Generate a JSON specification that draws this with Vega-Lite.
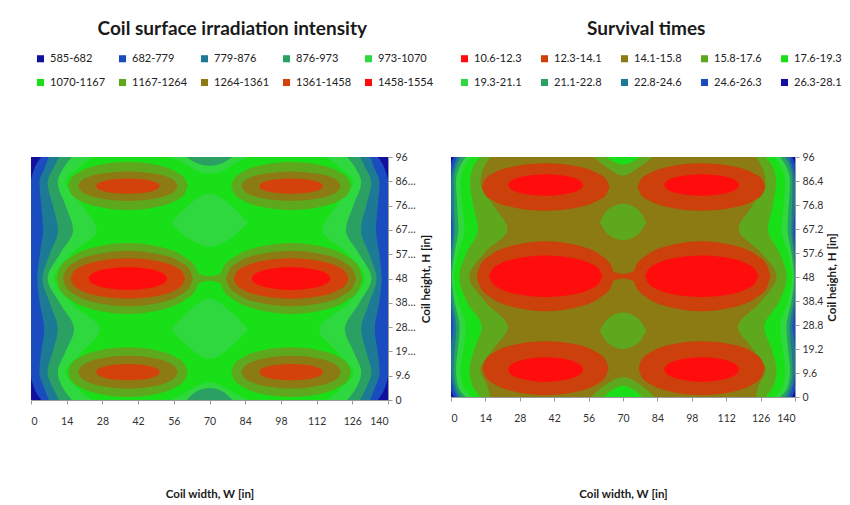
{
"$schema": "https://vega.github.io/schema/vega-lite/v6.json",
"background": "white",
"padding": {"left": 30, "top": 20, "right": 0, "bottom": 0},
"spacing": 16,
"config": {
 "font": "Lato",
 "view": {"stroke": null},
 "axis": {"labelFont": "Lato", "titleFont": "Lato", "labelFontSize": 10.5, "labelColor": "#333333", "titleColor": "#1a1a1a", "domainColor": "#9a9a9a", "tickColor": "#9a9a9a", "grid": false, "tickSize": 4, "titleFontWeight": "bold", "titleFontSize": 11.5},
 "legend": {"labelFont": "Lato", "labelFontSize": 11, "labelColor": "#222222", "symbolType": "square", "symbolSize": 50, "symbolStrokeWidth": 0, "symbolOpacity": 1, "columns": 5, "direction": "horizontal", "gridAlign": "all", "rowPadding": 12, "orient": "none", "padding": 0},
 "title": {"font": "Lato", "fontSize": 19, "fontWeight": "bold", "color": "#1a1a1a", "frame": "bounds", "anchor": "middle", "offset": 14}
},
"resolve": {"scale": {"color": "independent"}, "legend": {"color": "independent"}},
"hconcat": [
 {
  "width": 357, "height": 243,
  "title": {"text": "Coil surface irradiation intensity"},
  "encoding": {
   "x": {"field": "x", "type": "quantitative", "scale": {"domain": [0, 140], "nice": false, "zero": false}, "axis": {"values": [0,14,28,42,56,70,84,98,112,126,140], "title": "Coil width, W [in]", "titlePadding": 62, "labelPadding": 12}},
   "y": {"field": "y", "type": "quantitative", "scale": {"domain": [0, 96], "nice": false, "zero": false}, "axis": {"orient": "right", "values": [0,9.6,19.2,28.8,38.4,48,57.6,67.2,76.8,86.4,96], "format": ".1~f", "labelExpr": "indexof([0,9.6,48,96], datum.value) >= 0 ? datum.label : floor(datum.value) + '…'", "title": "Coil height, H [in]", "titleAngle": 270, "titleBaseline": "top", "titlePadding": 5, "labelPadding": 3}},
   "color": {"field": "c", "type": "ordinal", "scale": {"domain": [1,2,3,4,5,6,7,8,9,10], "range": ["#11119e","#1a4cc0","#1d7a94","#2aa163","#30d840","#19df19","#5ea81e","#8c7a12","#d4420c","#ff0c0c"]}, "legend": {"title": null, "columnPadding": 11, "legendX": 4, "legendY": -104, "labelExpr": "['585-682','682-779','779-876','876-973','973-1070','1070-1167','1167-1264','1264-1361','1361-1458','1458-1554'][datum.value-1]"}}
  },
  "layer": [
   {"data": {"values": [{"x": 0, "x2": 140, "y": 0, "y2": 96, "c": 6}]}, "mark": {"type": "rect"}, "encoding": {"x2": {"field": "x2"}, "y2": {"field": "y2"}}},
   {"data": {"name": "Led"}, "encoding": {"x2": {"field": "x2"}, "detail": {"field": "s"}}, "layer": [
     {"transform": [{"filter": "datum.c==5"}], "mark": {"type": "area", "orient": "horizontal", "interpolate": "monotone"}},
     {"transform": [{"filter": "datum.c==4"}], "mark": {"type": "area", "orient": "horizontal", "interpolate": "monotone"}},
     {"transform": [{"filter": "datum.c==3"}], "mark": {"type": "area", "orient": "horizontal", "interpolate": "monotone"}},
     {"transform": [{"filter": "datum.c==2"}], "mark": {"type": "area", "orient": "horizontal", "interpolate": "monotone"}},
     {"transform": [{"filter": "datum.c==1"}], "mark": {"type": "area", "orient": "horizontal", "interpolate": "monotone"}}
   ]},
   {"data": {"name": "Lsh"}, "encoding": {"y2": {"field": "y2"}, "detail": {"field": "s"}}, "layer": [
     {"transform": [{"filter": "datum.c==5"}], "mark": {"type": "area", "orient": "vertical", "interpolate": "monotone"}},
     {"transform": [{"filter": "datum.c==4"}], "mark": {"type": "area", "orient": "vertical", "interpolate": "monotone"}},
     {"transform": [{"filter": "datum.c==7"}], "mark": {"type": "area", "orient": "vertical", "interpolate": "monotone"}},
     {"transform": [{"filter": "datum.c==8"}], "mark": {"type": "area", "orient": "vertical", "interpolate": "monotone"}},
     {"transform": [{"filter": "datum.c==9"}], "mark": {"type": "area", "orient": "vertical", "interpolate": "monotone"}},
     {"transform": [{"filter": "datum.c==10"}], "mark": {"type": "area", "orient": "vertical", "interpolate": "monotone"}}
   ]}
  ]
 },
 {
  "width": 344, "height": 240,
  "title": {"text": "Survival times"},
  "encoding": {
   "x": {"field": "x", "type": "quantitative", "scale": {"domain": [0, 140], "nice": false, "zero": false}, "axis": {"values": [0,14,28,42,56,70,84,98,112,126,140], "title": "Coil width, W [in]", "titlePadding": 65, "labelPadding": 12}},
   "y": {"field": "y", "type": "quantitative", "scale": {"domain": [0, 96], "nice": false, "zero": false}, "axis": {"orient": "right", "values": [0,9.6,19.2,28.8,38.4,48,57.6,67.2,76.8,86.4,96], "format": ".1~f", "title": "Coil height, H [in]", "titleAngle": 270, "titleBaseline": "top", "titlePadding": 4, "labelPadding": 3}},
   "color": {"field": "c", "type": "ordinal", "scale": {"domain": [1,2,3,4,5,6,7,8,9,10], "range": ["#ff0c0c","#cc400c","#8c7a12","#5ea81e","#19df19","#30d840","#2aa163","#1d7a94","#1a4cc0","#11119e"]}, "legend": {"title": null, "columnPadding": 17, "legendX": 8, "legendY": -104, "labelExpr": "['10.6-12.3','12.3-14.1','14.1-15.8','15.8-17.6','17.6-19.3','19.3-21.1','21.1-22.8','22.8-24.6','24.6-26.3','26.3-28.1'][datum.value-1]"}}
  },
  "layer": [
   {"data": {"values": [{"x": 0, "x2": 140, "y": 0, "y2": 96, "c": 3}]}, "mark": {"type": "rect"}, "encoding": {"x2": {"field": "x2"}, "y2": {"field": "y2"}}},
   {"data": {"name": "Red"}, "encoding": {"x2": {"field": "x2"}, "detail": {"field": "s"}}, "layer": [
     {"transform": [{"filter": "datum.c==4"}], "mark": {"type": "area", "orient": "horizontal", "interpolate": "monotone"}},
     {"transform": [{"filter": "datum.c==5"}], "mark": {"type": "area", "orient": "horizontal", "interpolate": "monotone"}},
     {"transform": [{"filter": "datum.c==6"}], "mark": {"type": "area", "orient": "horizontal", "interpolate": "monotone"}},
     {"transform": [{"filter": "datum.c==7"}], "mark": {"type": "area", "orient": "horizontal", "interpolate": "monotone"}},
     {"transform": [{"filter": "datum.c==8"}], "mark": {"type": "area", "orient": "horizontal", "interpolate": "monotone"}},
     {"transform": [{"filter": "datum.c==9"}], "mark": {"type": "area", "orient": "horizontal", "interpolate": "monotone"}},
     {"transform": [{"filter": "datum.c==10"}], "mark": {"type": "area", "orient": "horizontal", "interpolate": "monotone"}}
   ]},
   {"data": {"name": "Rsh"}, "encoding": {"y2": {"field": "y2"}, "detail": {"field": "s"}}, "layer": [
     {"transform": [{"filter": "datum.c==4"}], "mark": {"type": "area", "orient": "vertical", "interpolate": "monotone"}},
     {"transform": [{"filter": "datum.c==5"}], "mark": {"type": "area", "orient": "vertical", "interpolate": "monotone"}},
     {"transform": [{"filter": "datum.c==2"}], "mark": {"type": "area", "orient": "vertical", "interpolate": "monotone"}},
     {"transform": [{"filter": "datum.c==1"}], "mark": {"type": "area", "orient": "vertical", "interpolate": "monotone"}}
   ]}
  ]
 }
],
"datasets": {
 "Lsh": [
  {"s":"n5t","c":5,"x":55,"y":96,"y2":96},{"s":"n5t","c":5,"x":60,"y":96,"y2":93.5},{"s":"n5t","c":5,"x":65,"y":96,"y2":90.5},{"s":"n5t","c":5,"x":70,"y":96,"y2":89.5},{"s":"n5t","c":5,"x":75,"y":96,"y2":90.5},{"s":"n5t","c":5,"x":80,"y":96,"y2":93.5},{"s":"n5t","c":5,"x":85,"y":96,"y2":96},
  {"s":"n5b","c":5,"x":55,"y":0,"y2":0},{"s":"n5b","c":5,"x":60,"y":2.5,"y2":0},{"s":"n5b","c":5,"x":65,"y":5.5,"y2":0},{"s":"n5b","c":5,"x":70,"y":7,"y2":0},{"s":"n5b","c":5,"x":75,"y":5.5,"y2":0},{"s":"n5b","c":5,"x":80,"y":2.5,"y2":0},{"s":"n5b","c":5,"x":85,"y":0,"y2":0},
  {"s":"d5t","c":5,"x":55,"y":70,"y2":70},{"s":"d5t","c":5,"x":59,"y":74.5,"y2":66},{"s":"d5t","c":5,"x":63,"y":78,"y2":63},{"s":"d5t","c":5,"x":66.5,"y":80.5,"y2":61.3},{"s":"d5t","c":5,"x":70,"y":81.5,"y2":60.5},{"s":"d5t","c":5,"x":73.5,"y":80.5,"y2":61.3},{"s":"d5t","c":5,"x":77,"y":78,"y2":63},{"s":"d5t","c":5,"x":81,"y":74.5,"y2":66},{"s":"d5t","c":5,"x":85,"y":70,"y2":70},
  {"s":"d5b","c":5,"x":55,"y":28,"y2":28},{"s":"d5b","c":5,"x":59,"y":32.5,"y2":23.5},{"s":"d5b","c":5,"x":63,"y":36,"y2":20},{"s":"d5b","c":5,"x":66.5,"y":38.8,"y2":17.3},{"s":"d5b","c":5,"x":70,"y":40,"y2":16.3},{"s":"d5b","c":5,"x":73.5,"y":38.8,"y2":17.3},{"s":"d5b","c":5,"x":77,"y":36,"y2":20},{"s":"d5b","c":5,"x":81,"y":32.5,"y2":23.5},{"s":"d5b","c":5,"x":85,"y":28,"y2":28},
  {"s":"n4t","c":4,"x":61,"y":96,"y2":96},{"s":"n4t","c":4,"x":65,"y":96,"y2":93.5},{"s":"n4t","c":4,"x":70,"y":96,"y2":92.5},{"s":"n4t","c":4,"x":75,"y":96,"y2":93.5},{"s":"n4t","c":4,"x":79,"y":96,"y2":96},
  {"s":"n4b","c":4,"x":61,"y":0,"y2":0},{"s":"n4b","c":4,"x":65,"y":3.5,"y2":0},{"s":"n4b","c":4,"x":70,"y":4.7,"y2":0},{"s":"n4b","c":4,"x":75,"y":3.5,"y2":0},{"s":"n4b","c":4,"x":79,"y":0,"y2":0},
  {"s":"t7a","c":7,"x":14.5,"y":84.5,"y2":84.5},{"s":"t7a","c":7,"x":15.7,"y":87.5,"y2":81.5},{"s":"t7a","c":7,"x":19.2,"y":90.2,"y2":78.8},{"s":"t7a","c":7,"x":26.3,"y":92.7,"y2":76.3},{"s":"t7a","c":7,"x":38,"y":94,"y2":75},{"s":"t7a","c":7,"x":49.8,"y":92.7,"y2":76.3},{"s":"t7a","c":7,"x":56.8,"y":90.2,"y2":78.8},{"s":"t7a","c":7,"x":60.3,"y":87.5,"y2":81.5},{"s":"t7a","c":7,"x":61.5,"y":84.5,"y2":84.5},
  {"s":"t7b","c":7,"x":78.5,"y":84.5,"y2":84.5},{"s":"t7b","c":7,"x":79.7,"y":87.5,"y2":81.5},{"s":"t7b","c":7,"x":83.2,"y":90.2,"y2":78.8},{"s":"t7b","c":7,"x":90.3,"y":92.7,"y2":76.3},{"s":"t7b","c":7,"x":102,"y":94,"y2":75},{"s":"t7b","c":7,"x":113.8,"y":92.7,"y2":76.3},{"s":"t7b","c":7,"x":120.8,"y":90.2,"y2":78.8},{"s":"t7b","c":7,"x":124.3,"y":87.5,"y2":81.5},{"s":"t7b","c":7,"x":125.5,"y":84.5,"y2":84.5},
  {"s":"m7a","c":7,"x":10,"y":48,"y2":48},{"s":"m7a","c":7,"x":11.4,"y":52.4,"y2":43.6},{"s":"m7a","c":7,"x":15.6,"y":56.4,"y2":39.6},{"s":"m7a","c":7,"x":24,"y":60.1,"y2":35.9},{"s":"m7a","c":7,"x":38,"y":62,"y2":34},{"s":"m7a","c":7,"x":52,"y":60.1,"y2":35.9},{"s":"m7a","c":7,"x":60.4,"y":56.4,"y2":39.6},{"s":"m7a","c":7,"x":64.6,"y":52.4,"y2":43.6},{"s":"m7a","c":7,"x":66,"y":48,"y2":48},
  {"s":"m7b","c":7,"x":74,"y":48,"y2":48},{"s":"m7b","c":7,"x":75.4,"y":52.4,"y2":43.6},{"s":"m7b","c":7,"x":79.6,"y":56.4,"y2":39.6},{"s":"m7b","c":7,"x":88,"y":60.1,"y2":35.9},{"s":"m7b","c":7,"x":102,"y":62,"y2":34},{"s":"m7b","c":7,"x":116,"y":60.1,"y2":35.9},{"s":"m7b","c":7,"x":124.4,"y":56.4,"y2":39.6},{"s":"m7b","c":7,"x":128.6,"y":52.4,"y2":43.6},{"s":"m7b","c":7,"x":130,"y":48,"y2":48},
  {"s":"b7a","c":7,"x":14.5,"y":11,"y2":11},{"s":"b7a","c":7,"x":15.7,"y":14.1,"y2":7.9},{"s":"b7a","c":7,"x":19.2,"y":16.9,"y2":5.1},{"s":"b7a","c":7,"x":26.3,"y":19.5,"y2":2.5},{"s":"b7a","c":7,"x":38,"y":20.8,"y2":1.2},{"s":"b7a","c":7,"x":49.8,"y":19.5,"y2":2.5},{"s":"b7a","c":7,"x":56.8,"y":16.9,"y2":5.1},{"s":"b7a","c":7,"x":60.3,"y":14.1,"y2":7.9},{"s":"b7a","c":7,"x":61.5,"y":11,"y2":11},
  {"s":"b7b","c":7,"x":78.5,"y":11,"y2":11},{"s":"b7b","c":7,"x":79.7,"y":14.1,"y2":7.9},{"s":"b7b","c":7,"x":83.2,"y":16.9,"y2":5.1},{"s":"b7b","c":7,"x":90.3,"y":19.5,"y2":2.5},{"s":"b7b","c":7,"x":102,"y":20.8,"y2":1.2},{"s":"b7b","c":7,"x":113.8,"y":19.5,"y2":2.5},{"s":"b7b","c":7,"x":120.8,"y":16.9,"y2":5.1},{"s":"b7b","c":7,"x":124.3,"y":14.1,"y2":7.9},{"s":"b7b","c":7,"x":125.5,"y":11,"y2":11},
  {"s":"br7","c":7,"x":62,"y":51.5,"y2":44.5},{"s":"br7","c":7,"x":66,"y":49.8,"y2":46.2},{"s":"br7","c":7,"x":70,"y":48.9,"y2":47.1},{"s":"br7","c":7,"x":74,"y":49.8,"y2":46.2},{"s":"br7","c":7,"x":78,"y":51.5,"y2":44.5},
  {"s":"t8a","c":8,"x":18.5,"y":84.5,"y2":84.5},{"s":"t8a","c":8,"x":19.5,"y":86.3,"y2":82.7},{"s":"t8a","c":8,"x":22.4,"y":88,"y2":81},{"s":"t8a","c":8,"x":28.3,"y":89.5,"y2":79.5},{"s":"t8a","c":8,"x":38,"y":90.3,"y2":78.7},{"s":"t8a","c":8,"x":47.8,"y":89.5,"y2":79.5},{"s":"t8a","c":8,"x":53.6,"y":88,"y2":81},{"s":"t8a","c":8,"x":56.5,"y":86.3,"y2":82.7},{"s":"t8a","c":8,"x":57.5,"y":84.5,"y2":84.5},
  {"s":"t8b","c":8,"x":82.5,"y":84.5,"y2":84.5},{"s":"t8b","c":8,"x":83.5,"y":86.3,"y2":82.7},{"s":"t8b","c":8,"x":86.4,"y":88,"y2":81},{"s":"t8b","c":8,"x":92.3,"y":89.5,"y2":79.5},{"s":"t8b","c":8,"x":102,"y":90.3,"y2":78.7},{"s":"t8b","c":8,"x":111.8,"y":89.5,"y2":79.5},{"s":"t8b","c":8,"x":117.6,"y":88,"y2":81},{"s":"t8b","c":8,"x":120.5,"y":86.3,"y2":82.7},{"s":"t8b","c":8,"x":121.5,"y":84.5,"y2":84.5},
  {"s":"m8a","c":8,"x":12.5,"y":48,"y2":48},{"s":"m8a","c":8,"x":13.8,"y":51.4,"y2":44.6},{"s":"m8a","c":8,"x":17.6,"y":54.6,"y2":41.4},{"s":"m8a","c":8,"x":25.3,"y":57.5,"y2":38.5},{"s":"m8a","c":8,"x":38,"y":59,"y2":37},{"s":"m8a","c":8,"x":50.8,"y":57.5,"y2":38.5},{"s":"m8a","c":8,"x":58.4,"y":54.6,"y2":41.4},{"s":"m8a","c":8,"x":62.2,"y":51.4,"y2":44.6},{"s":"m8a","c":8,"x":63.5,"y":48,"y2":48},
  {"s":"m8b","c":8,"x":76.5,"y":48,"y2":48},{"s":"m8b","c":8,"x":77.8,"y":51.4,"y2":44.6},{"s":"m8b","c":8,"x":81.6,"y":54.6,"y2":41.4},{"s":"m8b","c":8,"x":89.3,"y":57.5,"y2":38.5},{"s":"m8b","c":8,"x":102,"y":59,"y2":37},{"s":"m8b","c":8,"x":114.8,"y":57.5,"y2":38.5},{"s":"m8b","c":8,"x":122.4,"y":54.6,"y2":41.4},{"s":"m8b","c":8,"x":126.2,"y":51.4,"y2":44.6},{"s":"m8b","c":8,"x":127.5,"y":48,"y2":48},
  {"s":"b8a","c":8,"x":18.5,"y":11,"y2":11},{"s":"b8a","c":8,"x":19.5,"y":13,"y2":9},{"s":"b8a","c":8,"x":22.4,"y":14.9,"y2":7.1},{"s":"b8a","c":8,"x":28.3,"y":16.6,"y2":5.4},{"s":"b8a","c":8,"x":38,"y":17.5,"y2":4.5},{"s":"b8a","c":8,"x":47.8,"y":16.6,"y2":5.4},{"s":"b8a","c":8,"x":53.6,"y":14.9,"y2":7.1},{"s":"b8a","c":8,"x":56.5,"y":13,"y2":9},{"s":"b8a","c":8,"x":57.5,"y":11,"y2":11},
  {"s":"b8b","c":8,"x":82.5,"y":11,"y2":11},{"s":"b8b","c":8,"x":83.5,"y":13,"y2":9},{"s":"b8b","c":8,"x":86.4,"y":14.9,"y2":7.1},{"s":"b8b","c":8,"x":92.3,"y":16.6,"y2":5.4},{"s":"b8b","c":8,"x":102,"y":17.5,"y2":4.5},{"s":"b8b","c":8,"x":111.8,"y":16.6,"y2":5.4},{"s":"b8b","c":8,"x":117.6,"y":14.9,"y2":7.1},{"s":"b8b","c":8,"x":120.5,"y":13,"y2":9},{"s":"b8b","c":8,"x":121.5,"y":11,"y2":11},
  {"s":"t9a","c":9,"x":25.5,"y":84.5,"y2":84.5},{"s":"t9a","c":9,"x":26.1,"y":85.4,"y2":83.6},{"s":"t9a","c":9,"x":28,"y":86.3,"y2":82.7},{"s":"t9a","c":9,"x":31.8,"y":87.1,"y2":81.9},{"s":"t9a","c":9,"x":38,"y":87.5,"y2":81.5},{"s":"t9a","c":9,"x":44.3,"y":87.1,"y2":81.9},{"s":"t9a","c":9,"x":48,"y":86.3,"y2":82.7},{"s":"t9a","c":9,"x":49.9,"y":85.4,"y2":83.6},{"s":"t9a","c":9,"x":50.5,"y":84.5,"y2":84.5},
  {"s":"t9b","c":9,"x":89.5,"y":84.5,"y2":84.5},{"s":"t9b","c":9,"x":90.1,"y":85.4,"y2":83.6},{"s":"t9b","c":9,"x":92,"y":86.3,"y2":82.7},{"s":"t9b","c":9,"x":95.8,"y":87.1,"y2":81.9},{"s":"t9b","c":9,"x":102,"y":87.5,"y2":81.5},{"s":"t9b","c":9,"x":108.3,"y":87.1,"y2":81.9},{"s":"t9b","c":9,"x":112,"y":86.3,"y2":82.7},{"s":"t9b","c":9,"x":113.9,"y":85.4,"y2":83.6},{"s":"t9b","c":9,"x":114.5,"y":84.5,"y2":84.5},
  {"s":"m9a","c":9,"x":15.5,"y":48,"y2":48},{"s":"m9a","c":9,"x":16.6,"y":50.5,"y2":45.5},{"s":"m9a","c":9,"x":20,"y":52.8,"y2":43.2},{"s":"m9a","c":9,"x":26.8,"y":54.9,"y2":41.1},{"s":"m9a","c":9,"x":38,"y":56,"y2":40},{"s":"m9a","c":9,"x":49.3,"y":54.9,"y2":41.1},{"s":"m9a","c":9,"x":56,"y":52.8,"y2":43.2},{"s":"m9a","c":9,"x":59.4,"y":50.5,"y2":45.5},{"s":"m9a","c":9,"x":60.5,"y":48,"y2":48},
  {"s":"m9b","c":9,"x":79.5,"y":48,"y2":48},{"s":"m9b","c":9,"x":80.6,"y":50.5,"y2":45.5},{"s":"m9b","c":9,"x":84,"y":52.8,"y2":43.2},{"s":"m9b","c":9,"x":90.8,"y":54.9,"y2":41.1},{"s":"m9b","c":9,"x":102,"y":56,"y2":40},{"s":"m9b","c":9,"x":113.3,"y":54.9,"y2":41.1},{"s":"m9b","c":9,"x":120,"y":52.8,"y2":43.2},{"s":"m9b","c":9,"x":123.4,"y":50.5,"y2":45.5},{"s":"m9b","c":9,"x":124.5,"y":48,"y2":48},
  {"s":"b9a","c":9,"x":25.5,"y":11,"y2":11},{"s":"b9a","c":9,"x":26.1,"y":12,"y2":10},{"s":"b9a","c":9,"x":28,"y":12.9,"y2":9.1},{"s":"b9a","c":9,"x":31.8,"y":13.8,"y2":8.2},{"s":"b9a","c":9,"x":38,"y":14.2,"y2":7.8},{"s":"b9a","c":9,"x":44.3,"y":13.8,"y2":8.2},{"s":"b9a","c":9,"x":48,"y":12.9,"y2":9.1},{"s":"b9a","c":9,"x":49.9,"y":12,"y2":10},{"s":"b9a","c":9,"x":50.5,"y":11,"y2":11},
  {"s":"b9b","c":9,"x":89.5,"y":11,"y2":11},{"s":"b9b","c":9,"x":90.1,"y":12,"y2":10},{"s":"b9b","c":9,"x":92,"y":12.9,"y2":9.1},{"s":"b9b","c":9,"x":95.8,"y":13.8,"y2":8.2},{"s":"b9b","c":9,"x":102,"y":14.2,"y2":7.8},{"s":"b9b","c":9,"x":108.3,"y":13.8,"y2":8.2},{"s":"b9b","c":9,"x":112,"y":12.9,"y2":9.1},{"s":"b9b","c":9,"x":113.9,"y":12,"y2":10},{"s":"b9b","c":9,"x":114.5,"y":11,"y2":11},
  {"s":"m10a","c":10,"x":22.5,"y":48,"y2":48},{"s":"m10a","c":10,"x":23.3,"y":49.4,"y2":46.6},{"s":"m10a","c":10,"x":25.6,"y":50.7,"y2":45.3},{"s":"m10a","c":10,"x":30.3,"y":51.9,"y2":44.1},{"s":"m10a","c":10,"x":38,"y":52.5,"y2":43.5},{"s":"m10a","c":10,"x":45.8,"y":51.9,"y2":44.1},{"s":"m10a","c":10,"x":50.4,"y":50.7,"y2":45.3},{"s":"m10a","c":10,"x":52.7,"y":49.4,"y2":46.6},{"s":"m10a","c":10,"x":53.5,"y":48,"y2":48},
  {"s":"m10b","c":10,"x":86.5,"y":48,"y2":48},{"s":"m10b","c":10,"x":87.3,"y":49.4,"y2":46.6},{"s":"m10b","c":10,"x":89.6,"y":50.7,"y2":45.3},{"s":"m10b","c":10,"x":94.3,"y":51.9,"y2":44.1},{"s":"m10b","c":10,"x":102,"y":52.5,"y2":43.5},{"s":"m10b","c":10,"x":109.8,"y":51.9,"y2":44.1},{"s":"m10b","c":10,"x":114.4,"y":50.7,"y2":45.3},{"s":"m10b","c":10,"x":116.7,"y":49.4,"y2":46.6},{"s":"m10b","c":10,"x":117.5,"y":48,"y2":48}
 ],
 "Led": [
  {"s":"e5L","c":5,"y":0,"x":0,"x2":24},{"s":"e5L","c":5,"y":4,"x":0,"x2":19},{"s":"e5L","c":5,"y":11,"x":0,"x2":13.5},{"s":"e5L","c":5,"y":19,"x":0,"x2":20},{"s":"e5L","c":5,"y":28,"x":0,"x2":27},{"s":"e5L","c":5,"y":38,"x":0,"x2":16},{"s":"e5L","c":5,"y":48,"x":0,"x2":9},{"s":"e5L","c":5,"y":58,"x":0,"x2":16},{"s":"e5L","c":5,"y":67,"x":0,"x2":25.7},{"s":"e5L","c":5,"y":77,"x":0,"x2":20},{"s":"e5L","c":5,"y":86,"x":0,"x2":13.5},{"s":"e5L","c":5,"y":92,"x":0,"x2":19},{"s":"e5L","c":5,"y":96,"x":0,"x2":24},
  {"s":"e5R","c":5,"y":0,"x":116,"x2":140},{"s":"e5R","c":5,"y":4,"x":121,"x2":140},{"s":"e5R","c":5,"y":11,"x":126.5,"x2":140},{"s":"e5R","c":5,"y":19,"x":120,"x2":140},{"s":"e5R","c":5,"y":28,"x":113,"x2":140},{"s":"e5R","c":5,"y":38,"x":124,"x2":140},{"s":"e5R","c":5,"y":48,"x":131,"x2":140},{"s":"e5R","c":5,"y":58,"x":124,"x2":140},{"s":"e5R","c":5,"y":67,"x":114.3,"x2":140},{"s":"e5R","c":5,"y":77,"x":120,"x2":140},{"s":"e5R","c":5,"y":86,"x":126.5,"x2":140},{"s":"e5R","c":5,"y":92,"x":121,"x2":140},{"s":"e5R","c":5,"y":96,"x":116,"x2":140},
  {"s":"e4L","c":4,"y":0,"x":0,"x2":16},{"s":"e4L","c":4,"y":4,"x":0,"x2":13},{"s":"e4L","c":4,"y":11,"x":0,"x2":10.5},{"s":"e4L","c":4,"y":19,"x":0,"x2":13.5},{"s":"e4L","c":4,"y":28,"x":0,"x2":16.9},{"s":"e4L","c":4,"y":38,"x":0,"x2":11.5},{"s":"e4L","c":4,"y":48,"x":0,"x2":6.5},{"s":"e4L","c":4,"y":58,"x":0,"x2":11.5},{"s":"e4L","c":4,"y":67,"x":0,"x2":16.5},{"s":"e4L","c":4,"y":77,"x":0,"x2":13.5},{"s":"e4L","c":4,"y":86,"x":0,"x2":10.5},{"s":"e4L","c":4,"y":92,"x":0,"x2":13},{"s":"e4L","c":4,"y":96,"x":0,"x2":16},
  {"s":"e4R","c":4,"y":0,"x":124,"x2":140},{"s":"e4R","c":4,"y":4,"x":127,"x2":140},{"s":"e4R","c":4,"y":11,"x":129.5,"x2":140},{"s":"e4R","c":4,"y":19,"x":126.5,"x2":140},{"s":"e4R","c":4,"y":28,"x":123.1,"x2":140},{"s":"e4R","c":4,"y":38,"x":128.5,"x2":140},{"s":"e4R","c":4,"y":48,"x":133.5,"x2":140},{"s":"e4R","c":4,"y":58,"x":128.5,"x2":140},{"s":"e4R","c":4,"y":67,"x":123.5,"x2":140},{"s":"e4R","c":4,"y":77,"x":126.5,"x2":140},{"s":"e4R","c":4,"y":86,"x":129.5,"x2":140},{"s":"e4R","c":4,"y":92,"x":127,"x2":140},{"s":"e4R","c":4,"y":96,"x":124,"x2":140},
  {"s":"e3L","c":3,"y":0,"x":0,"x2":11},{"s":"e3L","c":3,"y":4,"x":0,"x2":9},{"s":"e3L","c":3,"y":11,"x":0,"x2":6.5},{"s":"e3L","c":3,"y":19,"x":0,"x2":8.5},{"s":"e3L","c":3,"y":28,"x":0,"x2":10.5},{"s":"e3L","c":3,"y":38,"x":0,"x2":7.5},{"s":"e3L","c":3,"y":48,"x":0,"x2":4.5},{"s":"e3L","c":3,"y":58,"x":0,"x2":7.5},{"s":"e3L","c":3,"y":67,"x":0,"x2":10.6},{"s":"e3L","c":3,"y":77,"x":0,"x2":8.5},{"s":"e3L","c":3,"y":86,"x":0,"x2":6.5},{"s":"e3L","c":3,"y":92,"x":0,"x2":9},{"s":"e3L","c":3,"y":96,"x":0,"x2":11},
  {"s":"e3R","c":3,"y":0,"x":129,"x2":140},{"s":"e3R","c":3,"y":4,"x":131,"x2":140},{"s":"e3R","c":3,"y":11,"x":133.5,"x2":140},{"s":"e3R","c":3,"y":19,"x":131.5,"x2":140},{"s":"e3R","c":3,"y":28,"x":129.5,"x2":140},{"s":"e3R","c":3,"y":38,"x":132.5,"x2":140},{"s":"e3R","c":3,"y":48,"x":135.5,"x2":140},{"s":"e3R","c":3,"y":58,"x":132.5,"x2":140},{"s":"e3R","c":3,"y":67,"x":129.4,"x2":140},{"s":"e3R","c":3,"y":77,"x":131.5,"x2":140},{"s":"e3R","c":3,"y":86,"x":133.5,"x2":140},{"s":"e3R","c":3,"y":92,"x":131,"x2":140},{"s":"e3R","c":3,"y":96,"x":129,"x2":140},
  {"s":"e2L","c":2,"y":0,"x":0,"x2":7},{"s":"e2L","c":2,"y":4,"x":0,"x2":5.5},{"s":"e2L","c":2,"y":11,"x":0,"x2":3.3},{"s":"e2L","c":2,"y":19,"x":0,"x2":4},{"s":"e2L","c":2,"y":28,"x":0,"x2":5.2},{"s":"e2L","c":2,"y":38,"x":0,"x2":3.5},{"s":"e2L","c":2,"y":48,"x":0,"x2":2.5},{"s":"e2L","c":2,"y":58,"x":0,"x2":3.5},{"s":"e2L","c":2,"y":67,"x":0,"x2":4.7},{"s":"e2L","c":2,"y":77,"x":0,"x2":4},{"s":"e2L","c":2,"y":86,"x":0,"x2":3.3},{"s":"e2L","c":2,"y":92,"x":0,"x2":5.5},{"s":"e2L","c":2,"y":96,"x":0,"x2":7},
  {"s":"e2R","c":2,"y":0,"x":133,"x2":140},{"s":"e2R","c":2,"y":4,"x":134.5,"x2":140},{"s":"e2R","c":2,"y":11,"x":136.7,"x2":140},{"s":"e2R","c":2,"y":19,"x":136,"x2":140},{"s":"e2R","c":2,"y":28,"x":134.8,"x2":140},{"s":"e2R","c":2,"y":38,"x":136.5,"x2":140},{"s":"e2R","c":2,"y":48,"x":137.5,"x2":140},{"s":"e2R","c":2,"y":58,"x":136.5,"x2":140},{"s":"e2R","c":2,"y":67,"x":135.3,"x2":140},{"s":"e2R","c":2,"y":77,"x":136,"x2":140},{"s":"e2R","c":2,"y":86,"x":136.7,"x2":140},{"s":"e2R","c":2,"y":92,"x":134.5,"x2":140},{"s":"e2R","c":2,"y":96,"x":133,"x2":140},
  {"s":"e1Lb","c":1,"y":0,"x":0,"x2":4},{"s":"e1Lb","c":1,"y":3,"x":0,"x2":2},{"s":"e1Lb","c":1,"y":6,"x":0,"x2":0.8},{"s":"e1Lb","c":1,"y":9,"x":0,"x2":0},
  {"s":"e1Lt","c":1,"y":87,"x":0,"x2":0},{"s":"e1Lt","c":1,"y":90,"x":0,"x2":0.8},{"s":"e1Lt","c":1,"y":93,"x":0,"x2":2},{"s":"e1Lt","c":1,"y":96,"x":0,"x2":4},
  {"s":"e1Rb","c":1,"y":0,"x":136,"x2":140},{"s":"e1Rb","c":1,"y":3,"x":138,"x2":140},{"s":"e1Rb","c":1,"y":6,"x":139.2,"x2":140},{"s":"e1Rb","c":1,"y":9,"x":140,"x2":140},
  {"s":"e1Rt","c":1,"y":87,"x":140,"x2":140},{"s":"e1Rt","c":1,"y":90,"x":139.2,"x2":140},{"s":"e1Rt","c":1,"y":93,"x":138,"x2":140},{"s":"e1Rt","c":1,"y":96,"x":136,"x2":140}
 ],
 "Rsh": [
  {"s":"n4t","c":4,"x":58,"y":96,"y2":96},{"s":"n4t","c":4,"x":64,"y":96,"y2":91.5},{"s":"n4t","c":4,"x":70,"y":96,"y2":88.5},{"s":"n4t","c":4,"x":76,"y":96,"y2":91.5},{"s":"n4t","c":4,"x":82,"y":96,"y2":96},
  {"s":"n4b","c":4,"x":57,"y":0,"y2":0},{"s":"n4b","c":4,"x":63,"y":5,"y2":0},{"s":"n4b","c":4,"x":70,"y":8,"y2":0},{"s":"n4b","c":4,"x":77,"y":5,"y2":0},{"s":"n4b","c":4,"x":83,"y":0,"y2":0},
  {"s":"d4t","c":4,"x":60.5,"y":70,"y2":70},{"s":"d4t","c":4,"x":63,"y":74,"y2":66},{"s":"d4t","c":4,"x":66,"y":76.3,"y2":63.7},{"s":"d4t","c":4,"x":70,"y":77.3,"y2":62.7},{"s":"d4t","c":4,"x":74,"y":76.3,"y2":63.7},{"s":"d4t","c":4,"x":77,"y":74,"y2":66},{"s":"d4t","c":4,"x":79.5,"y":70,"y2":70},
  {"s":"d4b","c":4,"x":60.5,"y":26.5,"y2":26.5},{"s":"d4b","c":4,"x":63,"y":30.5,"y2":22.5},{"s":"d4b","c":4,"x":66,"y":32.8,"y2":20.2},{"s":"d4b","c":4,"x":70,"y":33.8,"y2":19.2},{"s":"d4b","c":4,"x":74,"y":32.8,"y2":20.2},{"s":"d4b","c":4,"x":77,"y":30.5,"y2":22.5},{"s":"d4b","c":4,"x":79.5,"y":26.5,"y2":26.5},
  {"s":"n5t","c":5,"x":63,"y":96,"y2":96},{"s":"n5t","c":5,"x":66.5,"y":96,"y2":94},{"s":"n5t","c":5,"x":70,"y":96,"y2":93},{"s":"n5t","c":5,"x":73.5,"y":96,"y2":94},{"s":"n5t","c":5,"x":77,"y":96,"y2":96},
  {"s":"n5b","c":5,"x":62,"y":0,"y2":0},{"s":"n5b","c":5,"x":66,"y":3,"y2":0},{"s":"n5b","c":5,"x":70,"y":4.5,"y2":0},{"s":"n5b","c":5,"x":74,"y":3,"y2":0},{"s":"n5b","c":5,"x":78,"y":0,"y2":0},
  {"s":"t2a","c":2,"x":12.5,"y":84,"y2":84},{"s":"t2a","c":2,"x":13.8,"y":87,"y2":81},{"s":"t2a","c":2,"x":17.7,"y":89.7,"y2":78.3},{"s":"t2a","c":2,"x":25.5,"y":92.2,"y2":75.8},{"s":"t2a","c":2,"x":38.5,"y":93.5,"y2":74.5},{"s":"t2a","c":2,"x":51.5,"y":92.2,"y2":75.8},{"s":"t2a","c":2,"x":59.3,"y":89.7,"y2":78.3},{"s":"t2a","c":2,"x":63.2,"y":87,"y2":81},{"s":"t2a","c":2,"x":64.5,"y":84,"y2":84},
  {"s":"t2b","c":2,"x":76,"y":84,"y2":84},{"s":"t2b","c":2,"x":77.3,"y":87,"y2":81},{"s":"t2b","c":2,"x":81.2,"y":89.7,"y2":78.3},{"s":"t2b","c":2,"x":89,"y":92.2,"y2":75.8},{"s":"t2b","c":2,"x":102,"y":93.5,"y2":74.5},{"s":"t2b","c":2,"x":115,"y":92.2,"y2":75.8},{"s":"t2b","c":2,"x":122.8,"y":89.7,"y2":78.3},{"s":"t2b","c":2,"x":126.7,"y":87,"y2":81},{"s":"t2b","c":2,"x":128,"y":84,"y2":84},
  {"s":"m2a","c":2,"x":10.5,"y":48.3,"y2":48.3},{"s":"m2a","c":2,"x":11.9,"y":52.7,"y2":43.9},{"s":"m2a","c":2,"x":16.1,"y":56.7,"y2":39.9},{"s":"m2a","c":2,"x":24.5,"y":60.4,"y2":36.2},{"s":"m2a","c":2,"x":38.5,"y":62.3,"y2":34.3},{"s":"m2a","c":2,"x":52.5,"y":60.4,"y2":36.2},{"s":"m2a","c":2,"x":60.9,"y":56.7,"y2":39.9},{"s":"m2a","c":2,"x":65.1,"y":52.7,"y2":43.9},{"s":"m2a","c":2,"x":66.5,"y":48.3,"y2":48.3},
  {"s":"m2b","c":2,"x":74,"y":48.3,"y2":48.3},{"s":"m2b","c":2,"x":75.4,"y":52.7,"y2":43.9},{"s":"m2b","c":2,"x":79.6,"y":56.7,"y2":39.9},{"s":"m2b","c":2,"x":88,"y":60.4,"y2":36.2},{"s":"m2b","c":2,"x":102,"y":62.3,"y2":34.3},{"s":"m2b","c":2,"x":116,"y":60.4,"y2":36.2},{"s":"m2b","c":2,"x":124.4,"y":56.7,"y2":39.9},{"s":"m2b","c":2,"x":128.6,"y":52.7,"y2":43.9},{"s":"m2b","c":2,"x":130,"y":48.3,"y2":48.3},
  {"s":"b2a","c":2,"x":12.8,"y":11.5,"y2":11.5},{"s":"b2a","c":2,"x":14.1,"y":14.9,"y2":8.1},{"s":"b2a","c":2,"x":17.9,"y":18,"y2":5},{"s":"b2a","c":2,"x":25.7,"y":20.9,"y2":2.2},{"s":"b2a","c":2,"x":38.5,"y":22.3,"y2":0.7},{"s":"b2a","c":2,"x":51.4,"y":20.9,"y2":2.2},{"s":"b2a","c":2,"x":59.1,"y":18,"y2":5},{"s":"b2a","c":2,"x":62.9,"y":14.9,"y2":8.1},{"s":"b2a","c":2,"x":64.2,"y":11.5,"y2":11.5},
  {"s":"b2b","c":2,"x":76.3,"y":11.5,"y2":11.5},{"s":"b2b","c":2,"x":77.6,"y":14.9,"y2":8.1},{"s":"b2b","c":2,"x":81.4,"y":18,"y2":5},{"s":"b2b","c":2,"x":89.2,"y":20.9,"y2":2.2},{"s":"b2b","c":2,"x":102,"y":22.3,"y2":0.7},{"s":"b2b","c":2,"x":114.9,"y":20.9,"y2":2.2},{"s":"b2b","c":2,"x":122.6,"y":18,"y2":5},{"s":"b2b","c":2,"x":126.4,"y":14.9,"y2":8.1},{"s":"b2b","c":2,"x":127.7,"y":11.5,"y2":11.5},
  {"s":"br2","c":2,"x":62,"y":52,"y2":44.6},{"s":"br2","c":2,"x":66,"y":50.1,"y2":46.5},{"s":"br2","c":2,"x":70,"y":49.2,"y2":47.4},{"s":"br2","c":2,"x":74,"y":50.1,"y2":46.5},{"s":"br2","c":2,"x":78,"y":52,"y2":44.6},
  {"s":"t1a","c":1,"x":23.2,"y":84.8,"y2":84.8},{"s":"t1a","c":1,"x":24,"y":86.1,"y2":83.5},{"s":"t1a","c":1,"x":26.3,"y":87.4,"y2":82.2},{"s":"t1a","c":1,"x":30.9,"y":88.5,"y2":81.1},{"s":"t1a","c":1,"x":38.5,"y":89.1,"y2":80.5},{"s":"t1a","c":1,"x":46.2,"y":88.5,"y2":81.1},{"s":"t1a","c":1,"x":50.7,"y":87.4,"y2":82.2},{"s":"t1a","c":1,"x":53,"y":86.1,"y2":83.5},{"s":"t1a","c":1,"x":53.8,"y":84.8,"y2":84.8},
  {"s":"t1b","c":1,"x":86.7,"y":84.8,"y2":84.8},{"s":"t1b","c":1,"x":87.5,"y":86.1,"y2":83.5},{"s":"t1b","c":1,"x":89.8,"y":87.4,"y2":82.2},{"s":"t1b","c":1,"x":94.4,"y":88.5,"y2":81.1},{"s":"t1b","c":1,"x":102,"y":89.1,"y2":80.5},{"s":"t1b","c":1,"x":109.7,"y":88.5,"y2":81.1},{"s":"t1b","c":1,"x":114.2,"y":87.4,"y2":82.2},{"s":"t1b","c":1,"x":116.5,"y":86.1,"y2":83.5},{"s":"t1b","c":1,"x":117.3,"y":84.8,"y2":84.8},
  {"s":"m1a","c":1,"x":15.5,"y":48.3,"y2":48.3},{"s":"m1a","c":1,"x":16.7,"y":50.9,"y2":45.7},{"s":"m1a","c":1,"x":20.1,"y":53.3,"y2":43.3},{"s":"m1a","c":1,"x":27,"y":55.5,"y2":41.1},{"s":"m1a","c":1,"x":38.5,"y":56.6,"y2":40},{"s":"m1a","c":1,"x":50,"y":55.5,"y2":41.1},{"s":"m1a","c":1,"x":56.9,"y":53.3,"y2":43.3},{"s":"m1a","c":1,"x":60.4,"y":50.9,"y2":45.7},{"s":"m1a","c":1,"x":61.5,"y":48.3,"y2":48.3},
  {"s":"m1b","c":1,"x":79,"y":48.3,"y2":48.3},{"s":"m1b","c":1,"x":80.2,"y":50.9,"y2":45.7},{"s":"m1b","c":1,"x":83.6,"y":53.3,"y2":43.3},{"s":"m1b","c":1,"x":90.5,"y":55.5,"y2":41.1},{"s":"m1b","c":1,"x":102,"y":56.6,"y2":40},{"s":"m1b","c":1,"x":113.5,"y":55.5,"y2":41.1},{"s":"m1b","c":1,"x":120.4,"y":53.3,"y2":43.3},{"s":"m1b","c":1,"x":123.9,"y":50.9,"y2":45.7},{"s":"m1b","c":1,"x":125,"y":48.3,"y2":48.3},
  {"s":"b1a","c":1,"x":23.2,"y":11,"y2":11},{"s":"b1a","c":1,"x":24,"y":12.5,"y2":9.5},{"s":"b1a","c":1,"x":26.3,"y":13.9,"y2":8.1},{"s":"b1a","c":1,"x":30.9,"y":15.2,"y2":6.8},{"s":"b1a","c":1,"x":38.5,"y":15.9,"y2":6.1},{"s":"b1a","c":1,"x":46.2,"y":15.2,"y2":6.8},{"s":"b1a","c":1,"x":50.7,"y":13.9,"y2":8.1},{"s":"b1a","c":1,"x":53,"y":12.5,"y2":9.5},{"s":"b1a","c":1,"x":53.8,"y":11,"y2":11},
  {"s":"b1b","c":1,"x":86.7,"y":11,"y2":11},{"s":"b1b","c":1,"x":87.5,"y":12.5,"y2":9.5},{"s":"b1b","c":1,"x":89.8,"y":13.9,"y2":8.1},{"s":"b1b","c":1,"x":94.4,"y":15.2,"y2":6.8},{"s":"b1b","c":1,"x":102,"y":15.9,"y2":6.1},{"s":"b1b","c":1,"x":109.7,"y":15.2,"y2":6.8},{"s":"b1b","c":1,"x":114.2,"y":13.9,"y2":8.1},{"s":"b1b","c":1,"x":116.5,"y":12.5,"y2":9.5},{"s":"b1b","c":1,"x":117.3,"y":11,"y2":11}
 ],
 "Red": [
  {"s":"e4L","c":4,"y":0,"x":0,"x2":16},{"s":"e4L","c":4,"y":4,"x":0,"x2":15},{"s":"e4L","c":4,"y":11,"x":0,"x2":12},{"s":"e4L","c":4,"y":19,"x":0,"x2":17},{"s":"e4L","c":4,"y":28,"x":0,"x2":23.2},{"s":"e4L","c":4,"y":38,"x":0,"x2":14},{"s":"e4L","c":4,"y":48,"x":0,"x2":7.5},{"s":"e4L","c":4,"y":58,"x":0,"x2":14},{"s":"e4L","c":4,"y":67,"x":0,"x2":23},{"s":"e4L","c":4,"y":77,"x":0,"x2":17},{"s":"e4L","c":4,"y":86,"x":0,"x2":12},{"s":"e4L","c":4,"y":92,"x":0,"x2":13.5},{"s":"e4L","c":4,"y":96,"x":0,"x2":16},
  {"s":"e4R","c":4,"y":0,"x":124,"x2":140},{"s":"e4R","c":4,"y":4,"x":125,"x2":140},{"s":"e4R","c":4,"y":11,"x":128,"x2":140},{"s":"e4R","c":4,"y":19,"x":123,"x2":140},{"s":"e4R","c":4,"y":28,"x":116.8,"x2":140},{"s":"e4R","c":4,"y":38,"x":126,"x2":140},{"s":"e4R","c":4,"y":48,"x":132.5,"x2":140},{"s":"e4R","c":4,"y":58,"x":126,"x2":140},{"s":"e4R","c":4,"y":67,"x":117,"x2":140},{"s":"e4R","c":4,"y":77,"x":123,"x2":140},{"s":"e4R","c":4,"y":86,"x":128,"x2":140},{"s":"e4R","c":4,"y":92,"x":126.5,"x2":140},{"s":"e4R","c":4,"y":96,"x":124,"x2":140},
  {"s":"e5L","c":5,"y":0,"x":0,"x2":12},{"s":"e5L","c":5,"y":4,"x":0,"x2":9},{"s":"e5L","c":5,"y":11,"x":0,"x2":7.5},{"s":"e5L","c":5,"y":19,"x":0,"x2":9.5},{"s":"e5L","c":5,"y":28,"x":0,"x2":12.5},{"s":"e5L","c":5,"y":38,"x":0,"x2":6.5},{"s":"e5L","c":5,"y":48,"x":0,"x2":3.4},{"s":"e5L","c":5,"y":58,"x":0,"x2":6.5},{"s":"e5L","c":5,"y":67,"x":0,"x2":11},{"s":"e5L","c":5,"y":77,"x":0,"x2":9},{"s":"e5L","c":5,"y":86,"x":0,"x2":7.7},{"s":"e5L","c":5,"y":92,"x":0,"x2":9},{"s":"e5L","c":5,"y":96,"x":0,"x2":12},
  {"s":"e5R","c":5,"y":0,"x":128,"x2":140},{"s":"e5R","c":5,"y":4,"x":131,"x2":140},{"s":"e5R","c":5,"y":11,"x":132.5,"x2":140},{"s":"e5R","c":5,"y":19,"x":130.5,"x2":140},{"s":"e5R","c":5,"y":28,"x":127.5,"x2":140},{"s":"e5R","c":5,"y":38,"x":133.5,"x2":140},{"s":"e5R","c":5,"y":48,"x":136.6,"x2":140},{"s":"e5R","c":5,"y":58,"x":133.5,"x2":140},{"s":"e5R","c":5,"y":67,"x":129,"x2":140},{"s":"e5R","c":5,"y":77,"x":131,"x2":140},{"s":"e5R","c":5,"y":86,"x":132.3,"x2":140},{"s":"e5R","c":5,"y":92,"x":131,"x2":140},{"s":"e5R","c":5,"y":96,"x":128,"x2":140},
  {"s":"e6L","c":6,"y":0,"x":0,"x2":8.5},{"s":"e6L","c":6,"y":4,"x":0,"x2":5},{"s":"e6L","c":6,"y":11,"x":0,"x2":4},{"s":"e6L","c":6,"y":19,"x":0,"x2":5},{"s":"e6L","c":6,"y":28,"x":0,"x2":6},{"s":"e6L","c":6,"y":38,"x":0,"x2":3},{"s":"e6L","c":6,"y":48,"x":0,"x2":1.2},{"s":"e6L","c":6,"y":58,"x":0,"x2":3},{"s":"e6L","c":6,"y":67,"x":0,"x2":5.5},{"s":"e6L","c":6,"y":77,"x":0,"x2":4.5},{"s":"e6L","c":6,"y":86,"x":0,"x2":4},{"s":"e6L","c":6,"y":92,"x":0,"x2":5.5},{"s":"e6L","c":6,"y":96,"x":0,"x2":8.5},
  {"s":"e6R","c":6,"y":0,"x":131.5,"x2":140},{"s":"e6R","c":6,"y":4,"x":135,"x2":140},{"s":"e6R","c":6,"y":11,"x":136,"x2":140},{"s":"e6R","c":6,"y":19,"x":135,"x2":140},{"s":"e6R","c":6,"y":28,"x":134,"x2":140},{"s":"e6R","c":6,"y":38,"x":137,"x2":140},{"s":"e6R","c":6,"y":48,"x":138.8,"x2":140},{"s":"e6R","c":6,"y":58,"x":137,"x2":140},{"s":"e6R","c":6,"y":67,"x":134.5,"x2":140},{"s":"e6R","c":6,"y":77,"x":135.5,"x2":140},{"s":"e6R","c":6,"y":86,"x":136,"x2":140},{"s":"e6R","c":6,"y":92,"x":134.5,"x2":140},{"s":"e6R","c":6,"y":96,"x":131.5,"x2":140},
  {"s":"e7L","c":7,"y":0,"x":0,"x2":6},{"s":"e7L","c":7,"y":4,"x":0,"x2":3},{"s":"e7L","c":7,"y":11,"x":0,"x2":2},{"s":"e7L","c":7,"y":19,"x":0,"x2":2.8},{"s":"e7L","c":7,"y":28,"x":0,"x2":3.5},{"s":"e7L","c":7,"y":38,"x":0,"x2":1.5},{"s":"e7L","c":7,"y":48,"x":0,"x2":0.4},{"s":"e7L","c":7,"y":58,"x":0,"x2":1.5},{"s":"e7L","c":7,"y":67,"x":0,"x2":3},{"s":"e7L","c":7,"y":77,"x":0,"x2":2.5},{"s":"e7L","c":7,"y":86,"x":0,"x2":2},{"s":"e7L","c":7,"y":92,"x":0,"x2":3.5},{"s":"e7L","c":7,"y":96,"x":0,"x2":6},
  {"s":"e7R","c":7,"y":0,"x":134,"x2":140},{"s":"e7R","c":7,"y":4,"x":137,"x2":140},{"s":"e7R","c":7,"y":11,"x":138,"x2":140},{"s":"e7R","c":7,"y":19,"x":137.2,"x2":140},{"s":"e7R","c":7,"y":28,"x":136.5,"x2":140},{"s":"e7R","c":7,"y":38,"x":138.5,"x2":140},{"s":"e7R","c":7,"y":48,"x":139.6,"x2":140},{"s":"e7R","c":7,"y":58,"x":138.5,"x2":140},{"s":"e7R","c":7,"y":67,"x":137,"x2":140},{"s":"e7R","c":7,"y":77,"x":137.5,"x2":140},{"s":"e7R","c":7,"y":86,"x":138,"x2":140},{"s":"e7R","c":7,"y":92,"x":136.5,"x2":140},{"s":"e7R","c":7,"y":96,"x":134,"x2":140},
  {"s":"e8L","c":8,"y":0,"x":0,"x2":4},{"s":"e8L","c":8,"y":4,"x":0,"x2":2},{"s":"e8L","c":8,"y":11,"x":0,"x2":1},{"s":"e8L","c":8,"y":19,"x":0,"x2":1.5},{"s":"e8L","c":8,"y":28,"x":0,"x2":2.2},{"s":"e8L","c":8,"y":38,"x":0,"x2":0.6},{"s":"e8L","c":8,"y":48,"x":0,"x2":0},{"s":"e8L","c":8,"y":58,"x":0,"x2":0.6},{"s":"e8L","c":8,"y":67,"x":0,"x2":1.5},{"s":"e8L","c":8,"y":77,"x":0,"x2":1.2},{"s":"e8L","c":8,"y":86,"x":0,"x2":1},{"s":"e8L","c":8,"y":92,"x":0,"x2":2},{"s":"e8L","c":8,"y":96,"x":0,"x2":4},
  {"s":"e8R","c":8,"y":0,"x":136,"x2":140},{"s":"e8R","c":8,"y":4,"x":138,"x2":140},{"s":"e8R","c":8,"y":11,"x":139,"x2":140},{"s":"e8R","c":8,"y":19,"x":138.5,"x2":140},{"s":"e8R","c":8,"y":28,"x":137.8,"x2":140},{"s":"e8R","c":8,"y":38,"x":139.4,"x2":140},{"s":"e8R","c":8,"y":48,"x":140,"x2":140},{"s":"e8R","c":8,"y":58,"x":139.4,"x2":140},{"s":"e8R","c":8,"y":67,"x":138.5,"x2":140},{"s":"e8R","c":8,"y":77,"x":138.8,"x2":140},{"s":"e8R","c":8,"y":86,"x":139,"x2":140},{"s":"e8R","c":8,"y":92,"x":138,"x2":140},{"s":"e8R","c":8,"y":96,"x":136,"x2":140},
  {"s":"e9L","c":9,"y":0,"x":0,"x2":2.5},{"s":"e9L","c":9,"y":4,"x":0,"x2":1},{"s":"e9L","c":9,"y":11,"x":0,"x2":0},{"s":"e9L","c":9,"y":19,"x":0,"x2":0},{"s":"e9L","c":9,"y":28,"x":0,"x2":1},{"s":"e9L","c":9,"y":38,"x":0,"x2":0},{"s":"e9L","c":9,"y":48,"x":0,"x2":0},{"s":"e9L","c":9,"y":58,"x":0,"x2":0},{"s":"e9L","c":9,"y":67,"x":0,"x2":0.7},{"s":"e9L","c":9,"y":77,"x":0,"x2":0},{"s":"e9L","c":9,"y":86,"x":0,"x2":0},{"s":"e9L","c":9,"y":92,"x":0,"x2":1},{"s":"e9L","c":9,"y":96,"x":0,"x2":2.5},
  {"s":"e9R","c":9,"y":0,"x":137.5,"x2":140},{"s":"e9R","c":9,"y":4,"x":139,"x2":140},{"s":"e9R","c":9,"y":11,"x":140,"x2":140},{"s":"e9R","c":9,"y":19,"x":140,"x2":140},{"s":"e9R","c":9,"y":28,"x":139,"x2":140},{"s":"e9R","c":9,"y":38,"x":140,"x2":140},{"s":"e9R","c":9,"y":48,"x":140,"x2":140},{"s":"e9R","c":9,"y":58,"x":140,"x2":140},{"s":"e9R","c":9,"y":67,"x":139.3,"x2":140},{"s":"e9R","c":9,"y":77,"x":140,"x2":140},{"s":"e9R","c":9,"y":86,"x":140,"x2":140},{"s":"e9R","c":9,"y":92,"x":139,"x2":140},{"s":"e9R","c":9,"y":96,"x":137.5,"x2":140},
  {"s":"e10Lb","c":10,"y":0,"x":0,"x2":1.2},{"s":"e10Lb","c":10,"y":2,"x":0,"x2":0.3},{"s":"e10Lb","c":10,"y":3,"x":0,"x2":0},
  {"s":"e10Lt","c":10,"y":93,"x":0,"x2":0},{"s":"e10Lt","c":10,"y":94,"x":0,"x2":0.3},{"s":"e10Lt","c":10,"y":96,"x":0,"x2":1.2},
  {"s":"e10Rb","c":10,"y":0,"x":138.8,"x2":140},{"s":"e10Rb","c":10,"y":2,"x":139.7,"x2":140},{"s":"e10Rb","c":10,"y":3,"x":140,"x2":140},
  {"s":"e10Rt","c":10,"y":93,"x":140,"x2":140},{"s":"e10Rt","c":10,"y":94,"x":139.7,"x2":140},{"s":"e10Rt","c":10,"y":96,"x":138.8,"x2":140}
 ]
}
}
